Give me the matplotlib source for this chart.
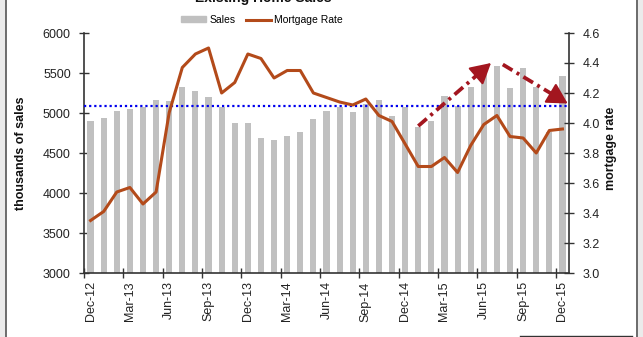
import matplotlib
matplotlib.use("Agg")
import matplotlib.pyplot as plt
from matplotlib.patches import Rectangle
from matplotlib.lines import Line2D
import numpy as np

plt.rcParams['font.family'] = ['Liberation Sans', 'DejaVu Sans']

months = ["Dec-12", "Jan-13", "Feb-13", "Mar-13", "Apr-13", "May-13", "Jun-13", "Jul-13", "Aug-13",
          "Sep-13", "Oct-13", "Nov-13", "Dec-13", "Jan-14", "Feb-14", "Mar-14", "Apr-14", "May-14",
          "Jun-14", "Jul-14", "Aug-14", "Sep-14", "Oct-14", "Nov-14", "Dec-14", "Jan-15", "Feb-15",
          "Mar-15", "Apr-15", "May-15", "Jun-15", "Jul-15", "Aug-15", "Sep-15", "Oct-15", "Nov-15",
          "Dec-15"]

sales = [4900, 4933, 5025, 5054, 5071, 5167, 5150, 5325, 5275, 5200, 5071, 4871, 4871,
         4683, 4667, 4713, 4758, 4920, 5025, 5071, 5013, 5113, 5163, 4963, 5071, 4821,
         4902, 5213, 5090, 5325, 5500, 5592, 5308, 5558, 5319, 4760, 5463]

rate = [3.35, 3.41, 3.54, 3.57, 3.46, 3.54, 4.07, 4.37, 4.46, 4.50, 4.20, 4.27, 4.46,
        4.43, 4.30, 4.35, 4.35, 4.20, 4.17, 4.14, 4.12, 4.16, 4.05, 4.01, 3.86, 3.71,
        3.71, 3.77, 3.67, 3.85, 3.99, 4.05, 3.91, 3.90, 3.80, 3.95, 3.96]

sales_avg = 5090

# trend arrows (category index, mortgage-rate axis value)
arrow_up = ((25.0, 3.98), (30.55, 4.40))
arrow_down = ((31.45, 4.39), (36.4, 4.13))

W, H = 643, 337
fig = plt.figure(figsize=(W / 100, H / 100), dpi=100)
fig.patch.set_facecolor('#ebebeb')
fig.patches.append(Rectangle((6 / W, 0), (636 - 6) / W, 1, transform=fig.transFigure,
                             facecolor='white', edgecolor='none', zorder=-10))
fig.lines.append(Line2D([5.5 / W, 5.5 / W], [0, 1], transform=fig.transFigure, color='#555555',
                        lw=1.2, zorder=-5))
fig.lines.append(Line2D([636.5 / W, 636.5 / W], [0, 1], transform=fig.transFigure, color='#555555',
                        lw=1.2, zorder=-5))
fig.lines.append(Line2D([520 / W, 632 / W], [1 - 336 / H, 1 - 336 / H], transform=fig.transFigure,
                        color='#333333', lw=1.0, zorder=-5))

left, right, top, bottom = 84, 569, 33, 273
ax = fig.add_axes([left / W, 1 - bottom / H, (right - left) / W, (bottom - top) / H])
ax.set_facecolor('none')
x = np.arange(len(months))
bars = ax.bar(x, sales, width=0.47, color='#c0c0c0', zorder=2, label='Sales')
ax.axhline(sales_avg, color='#0000ee', ls=(0, (1, 1.3)), lw=1.6, zorder=3)
ax.set_xlim(-0.5, len(months) - 0.5)
ax.set_ylim(3000, 6000)
ax.set_yticks(np.arange(3000, 6001, 500))

ax2 = ax.twinx()
ax2.set_ylim(3.0, 4.6)
ax2.set_yticks(np.round(np.arange(3.0, 4.61, 0.2), 1))
ax2.set_yticklabels([f"{v:.1f}" for v in np.arange(3.0, 4.61, 0.2)])
line, = ax2.plot(x, rate, color='#b34a1a', lw=2.2, zorder=4, label='Mortgage Rate')

arrow_color = '#a3161f'
for (x0, y0), (x1, y1) in (arrow_up, arrow_down):
    f = 0.82
    xm, ym = x0 + f * (x1 - x0), y0 + f * (y1 - y0)
    ax2.plot([x0, xm], [y0, ym], color=arrow_color, lw=2.7,
             ls=(0, (3, 1.3, 0.8, 1.3)), solid_capstyle='butt', zorder=5)
    ax2.annotate('', xy=(x1, y1), xytext=(xm, ym),
                 arrowprops=dict(arrowstyle='-|>,head_length=0.9,head_width=0.5',
                                 lw=1.5, color=arrow_color, shrinkA=0, shrinkB=0,
                                 mutation_scale=14),
                 zorder=5)

# x ticks: marks between categories every 3 months, labels centered on bars
ax.set_xticks(np.arange(-0.5, len(months), 3))
ax.set_xticklabels([])
ax.set_xticks(np.arange(0, len(months), 3), minor=True)
ax.set_xticklabels([months[i] for i in range(0, len(months), 3)], minor=True, rotation=90)
ax.tick_params(axis='x', which='major', direction='inout', length=7, width=1, color='#333333')
ax.tick_params(axis='x', which='minor', length=0, pad=6, labelsize=9, labelcolor='#222222')
ax.tick_params(axis='y', direction='inout', length=7, width=1, color='#333333', pad=6,
               labelsize=9, labelcolor='#222222')
ax2.tick_params(axis='y', direction='inout', length=7, width=1, color='#333333', pad=6,
                labelsize=9, labelcolor='#222222')

for a in (ax, ax2):
    a.spines['top'].set_visible(False)
    for s in ('left', 'right', 'bottom'):
        a.spines[s].set_color('#333333')
        a.spines[s].set_linewidth(1.2)
ax.spines['right'].set_visible(False)
ax2.spines['left'].set_visible(False)
ax2.spines['bottom'].set_visible(False)

ax.set_ylabel('thousands of sales', fontsize=9, fontweight='bold', color='#111111')
ax.yaxis.set_label_coords(-0.1175, 0.5)
ax2.set_ylabel('mortgage rate', fontsize=9, fontweight='bold', color='#111111')
ax2.yaxis.set_label_coords(1.074, 0.52)

fig.text(263 / W, 1 - 2 / H, 'Existing Home Sales', ha='center', va='baseline',
         fontsize=10, fontweight='bold', color='#111111')
fig.legend(handles=[Rectangle((0, 0), 1, 1, color='#c0c0c0'), line], labels=['Sales', 'Mortgage Rate'],
           loc='center', bbox_to_anchor=(262 / W, 1 - 20 / H), ncol=2, frameon=False,
           fontsize=7.5, handlelength=2.4, handleheight=0.5, columnspacing=1.0, handletextpad=0.3)

fig.savefig('out.png', dpi=100, facecolor=fig.get_facecolor())
